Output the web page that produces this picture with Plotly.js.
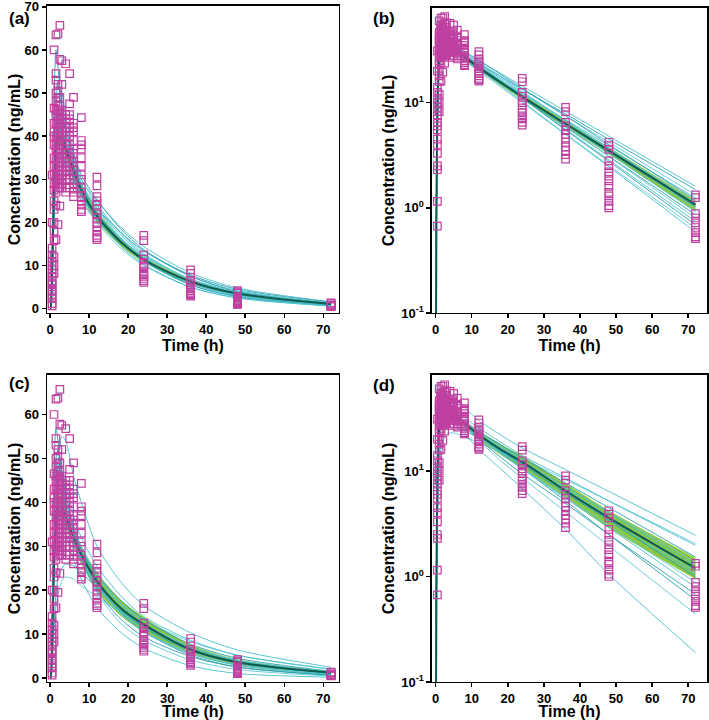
<!DOCTYPE html>
<html>
<head>
<meta charset="utf-8">
<script src="https://cdn.plot.ly/plotly-3.0.1.min.js"></script>
<style>
  html, body { margin: 0; padding: 0; background: #ffffff; }
  #chart { width: 709px; height: 720px; }
</style>
</head>
<body>
<div id="chart"></div>
<script>
// --- DATA ---
// time grid of the simulated profiles (h)
const curveTimes = [0, 0.1, 0.25, 0.5, 1, 1.5, 2, 3, 4, 6, 8, 12, 18, 24, 36, 48, 72];

// individual predicted profiles, model 1 (panels a, b)
const curvesModel1 = [
    [0, 0.05, 1.0, 8, 30, 42, 46, 45, 41.5, 35, 30, 25.0, 19.0, 14.4, 8.3, 4.8, 1.6],
    [0, 0.05, 2, 14, 48, 60, 56, 47, 41, 33.5, 28, 23.3, 17.7, 13.4, 7.8, 4.48, 1.49],
    [0, 0.05, 1.2, 9, 32, 46, 52, 50, 45, 36, 29, 23.9, 17.9, 13.4, 7.5, 4.2, 1.33],
    [0, 0.05, 0.8, 6, 22, 31, 35, 36, 34.5, 30, 26, 21.5, 16.2, 12.2, 6.9, 3.9, 1.24],
    [0, 0.05, 1.0, 7, 26, 37, 42, 44, 42, 36, 31, 25.3, 18.6, 13.7, 7.5, 4.0, 1.19],
    [0, 0.05, 1.5, 10, 33, 43, 45, 42, 38, 32, 27, 22.1, 16.4, 12.2, 6.7, 3.7, 1.12],
    [0, 0.05, 1.1, 8, 28, 39, 43, 42, 39, 33, 28.5, 23.2, 17.1, 12.5, 6.8, 3.66, 1.07],
    [0, 0.05, 0.9, 6.5, 24, 33, 36, 35, 33, 28.5, 25, 20.5, 15.2, 11.3, 6.2, 3.4, 1.03],
    [0, 0.05, 1.3, 9.5, 34, 47, 50, 47, 42, 35, 30, 24.2, 17.6, 12.8, 6.7, 3.6, 0.99],
    [0, 0.05, 1.0, 7.5, 27, 37, 40, 39, 37, 32, 27.5, 22.2, 16.2, 11.7, 6.2, 3.28, 0.92],
    [0, 0.05, 0.7, 5.5, 20, 29, 33, 35, 34, 30, 26, 21.0, 15.3, 11.1, 5.85, 3.1, 0.86],
    [0, 0.05, 1.6, 11, 38, 50, 53, 48, 42, 34.5, 29, 23.2, 16.5, 11.8, 6.0, 3.07, 0.80],
    [0, 0.05, 1.2, 8.5, 30, 40, 42, 40, 37, 31.5, 27, 21.6, 15.4, 11.0, 5.6, 2.86, 0.74],
    [0, 0.05, 1.0, 7.5, 27, 38, 42, 41, 38, 32.5, 28, 22.2, 15.7, 11.1, 5.5, 2.77, 0.69],
    [0, 0.05, 0.9, 7, 25, 34, 37, 36, 33, 28.5, 25, 19.9, 14.1, 10.0, 5.0, 2.53, 0.64],
    [0, 0.05, 1.4, 10, 34, 44, 46, 42, 37, 31, 26.5, 20.9, 14.6, 10.3, 5.0, 2.46, 0.59]
];
const meanModel1 = [0, 0.05, 1.2, 8, 28, 37, 40, 39.5, 37, 32, 27.5, 21.5, 15.6, 11.4, 6.3, 3.5, 1.07];
const lowerModel1 = [0, 0.05, 1.0, 7, 26, 35, 38, 37.5, 35, 30.3, 26, 20.3, 14.7, 10.8, 5.9, 3.25, 0.93];
const upperModel1 = [0, 0.05, 1.4, 9, 30, 39, 42, 41.5, 39, 33.7, 29, 22.7, 16.5, 12.0, 6.7, 3.75, 1.17];

// individual predicted profiles, model 2 (panels c, d)
const curvesModel2 = [
    [0, 0.05, 0.8, 6, 24, 38, 48, 55, 54, 46, 40, 30, 22, 16.5, 10.3, 6.4, 2.46],
    [0, 0.05, 2, 15, 48, 57, 54, 45, 39, 32, 27, 21.5, 15, 10.6, 5.2, 2.5, 0.60],
    [0, 0.05, 1.0, 7, 26, 36, 40, 39, 36, 31, 27, 22, 17, 13.2, 8.3, 5.2, 2.05],
    [0, 0.05, 1.2, 8.5, 30, 42, 47, 47, 44, 37, 32, 25.5, 18.8, 14, 8.6, 5.2, 1.97],
    [0, 0.05, 1.0, 7.5, 28, 39, 43, 42, 39, 33.5, 29, 23.5, 17.8, 13.3, 7.7, 4.5, 1.53],
    [0, 0.05, 0.4, 3, 11, 16, 19, 22, 23, 22.5, 21, 18.5, 15, 12, 7.0, 4.1, 1.37],
    [0, 0.05, 1.1, 8, 29, 40, 44, 43, 40, 34, 29.5, 23.5, 17, 12.5, 7.1, 4.0, 1.27],
    [0, 0.05, 0.5, 3.5, 13, 19, 22.5, 25, 26, 25.5, 24, 20.5, 15.5, 11.8, 6.6, 3.7, 1.18],
    [0, 0.05, 1.3, 9, 32, 44, 48, 46, 42, 35, 30, 23.5, 16.8, 12.2, 6.7, 3.7, 1.10],
    [0, 0.05, 0.9, 6.5, 24, 33, 37, 37, 35, 30.5, 26.5, 21, 15.3, 11.3, 6.2, 3.45, 1.05],
    [0, 0.05, 1.5, 11, 38, 50, 52, 47, 42, 34, 29, 22.5, 15.8, 11.5, 6.2, 3.4, 0.99],
    [0, 0.05, 1.0, 7, 26, 36, 40, 40, 37.5, 32, 27.5, 21, 14.7, 10.6, 5.7, 3.05, 0.88],
    [0, 0.05, 1.2, 9, 33, 45, 49, 46, 41, 34, 28.5, 21.5, 15, 10.5, 5.5, 2.9, 0.79],
    [0, 0.05, 0.8, 6, 23, 33, 38, 39, 37, 32, 27, 20, 13.5, 9.4, 4.9, 2.5, 0.68],
    [0, 0.05, 1.4, 10, 35, 46, 49, 45, 40, 32.5, 27, 19.5, 12.5, 8.6, 4.1, 1.95, 0.44],
    [0, 0.05, 1.1, 8, 28, 38, 40, 37, 33, 27, 22.5, 16, 10.5, 6.8, 2.8, 1.05, 0.19]
];
const meanModel2 = [0, 0.05, 1.1, 7.5, 26, 35, 39, 39, 36.5, 32, 28, 22, 16, 12.2, 6.5, 3.6, 1.2];
const lowerModel2 = [0, 0.05, 0.9, 6.5, 24, 32.5, 36.5, 36.5, 34.5, 30, 26, 20, 14.3, 10.6, 5.6, 2.9, 0.95];
const upperModel2 = [0, 0.05, 1.3, 8.5, 28, 37.5, 41.5, 41.5, 39, 34, 30, 24, 17.8, 13.8, 7.6, 4.2, 1.5];

// observed concentrations, grouped by sampling time (h)
const obsTimes = [0.5, 1, 1.5, 2, 2.5, 3, 4, 5, 6, 8, 12, 24, 36, 48, 72];
const obsConc = [
    [31, 20, 14, 12.5, 11, 10, 9, 8.2, 7.5, 6.5, 6, 5.5, 4.5, 4, 3.3, 2.5, 2.3, 1.15, 0.67],
    [60, 46.5, 43, 41, 40, 38, 35, 33, 31, 29, 27.5, 25, 23, 20, 18, 15.8, 12, 10, 8.2],
    [63.5, 54.5, 53, 50, 48, 46, 45, 43, 40, 38, 37, 35, 33, 31, 30, 29, 27, 24, 16],
    [63.7, 52, 50.5, 49, 47, 46, 44.5, 43, 42, 41, 40, 39, 37, 36, 35, 33, 31, 30, 29, 28, 19.5],
    [65.7, 57.8, 49, 47, 45.5, 44, 43, 42, 40, 38, 37, 35, 34, 33, 32, 30, 29, 28, 23.8],
    [57.5, 52, 46, 45, 44, 43, 42, 41, 40, 39, 38, 37, 35, 34, 32, 31, 30, 29, 28],
    [56.8, 45, 44, 43, 42, 41, 40, 38, 37, 36, 35, 34, 33, 32, 31, 30, 28, 27],
    [54.5, 47.5, 45, 44, 42, 41, 40, 38, 36, 35, 33, 32, 31, 30, 28],
    [49, 43, 42, 41, 39, 37, 36, 35, 34, 33, 32, 31, 30, 29, 28, 27, 26],
    [44.3, 39, 38, 37, 35, 33, 31, 30, 28, 27, 26, 25, 24, 23, 22.5],
    [30.5, 28.5, 26, 25, 24, 23, 22, 21, 20, 19, 18, 17, 16.5, 16],
    [17, 15.8, 12.5, 11.5, 10.5, 10, 9.5, 8.5, 8, 7.5, 7, 6.5, 6.1],
    [9, 8.2, 6.5, 6, 5.5, 5, 4.6, 4.2, 3.8, 3.5, 3.2, 2.9],
    [4.2, 3.9, 3.6, 2.8, 2.5, 2.2, 2.0, 1.8, 1.6, 1.4, 1.3, 1.15, 1.05, 1.0],
    [1.33, 1.25, 0.88, 0.8, 0.72, 0.65, 0.58, 0.53, 0.51]
];

// --- STYLE ---
const BAND_COLOR = '#8DC63F';
const CURVE_COLORS = ['#45BFCD', '#2A9FAE', '#5CC8D4'];
const MEAN_COLOR = '#0E5A4E';
const OBS_COLOR = '#BF40A0';

function buildPanel(curves, mean, lower, upper, xa, ya) {
    const obsX = [];
    const obsY = [];
    obsTimes.forEach((t, i) => {
        obsConc[i].forEach(c => { obsX.push(t); obsY.push(c); });
    });

    const smooth = { shape: 'spline', smoothing: 0.8 };
    const traces = [];
    traces.push({
        x: curveTimes, y: lower, mode: 'lines', xaxis: xa, yaxis: ya,
        line: Object.assign({ color: BAND_COLOR, width: 0.5 }, smooth), hoverinfo: 'skip'
    });
    traces.push({
        x: curveTimes, y: upper, mode: 'lines', xaxis: xa, yaxis: ya,
        fill: 'tonexty', fillcolor: BAND_COLOR,
        line: Object.assign({ color: BAND_COLOR, width: 0.5 }, smooth), hoverinfo: 'skip'
    });
    curves.forEach((c, i) => {
        traces.push({
            x: curveTimes, y: c, mode: 'lines', xaxis: xa, yaxis: ya,
            line: Object.assign({ color: CURVE_COLORS[i % 3], width: 0.9 }, smooth)
        });
    });
    traces.push({
        x: curveTimes, y: mean, mode: 'lines', xaxis: xa, yaxis: ya,
        line: Object.assign({ color: MEAN_COLOR, width: 2 }, smooth)
    });
    traces.push({
        x: obsX, y: obsY, mode: 'markers', xaxis: xa, yaxis: ya,
        marker: { symbol: 'square-open', size: 7.5, color: OBS_COLOR, line: { width: 1.2 } }
    });
    return traces;
}

const tickFont = { family: 'Arial, Liberation Sans, sans-serif', size: 13, color: '#000', weight: 'bold' };
const titleFont = { family: 'Arial, Liberation Sans, sans-serif', size: 16, color: '#000', weight: 'bold' };

function baseAxis(extra) {
    return Object.assign({
        showline: true, mirror: true, linecolor: '#000', linewidth: 1.5,
        ticks: 'outside', ticklen: 4, tickwidth: 1.5, tickcolor: '#000',
        showgrid: false, zeroline: false, tickfont: tickFont,
        ticklabeloverflow: 'allow'
    }, extra);
}

function timeAxis(domain, range, anchor) {
    return baseAxis({
        domain: domain, range: range, anchor: anchor, tick0: 0, dtick: 10,
        title: { text: 'Time (h)', font: titleFont, standoff: 1 }
    });
}

function concAxis(domain, anchor, standoff, extra) {
    return baseAxis(Object.assign({
        domain: domain, anchor: anchor,
        title: { text: 'Concentration (ng/mL)', font: titleFont, standoff: standoff }
    }, extra));
}

const logTicks = {
    type: 'log', tickvals: [0.1, 1, 10],
    ticktext: ['10<sup>-1</sup>', '10<sup>0</sup>', '10<sup>1</sup>']
};

const data = [].concat(
    buildPanel(curvesModel1, meanModel1, lowerModel1, upperModel1, 'x', 'y'),
    buildPanel(curvesModel1, meanModel1, lowerModel1, upperModel1, 'x2', 'y2'),
    buildPanel(curvesModel2, meanModel2, lowerModel2, upperModel2, 'x3', 'y3'),
    buildPanel(curvesModel2, meanModel2, lowerModel2, upperModel2, 'x4', 'y4')
);

const panelLabel = (text, x, y) => ({
    text: text, xref: 'paper', yref: 'paper', x: x, y: y,
    xanchor: 'left', yanchor: 'middle', showarrow: false,
    font: { family: 'Arial, Liberation Sans, sans-serif', size: 17, color: '#000', weight: 'bold' }
});

const layout = {
    width: 709, height: 720,
    margin: { l: 0, r: 0, t: 0, b: 0 },
    paper_bgcolor: '#ffffff', plot_bgcolor: '#ffffff',
    showlegend: false,
    xaxis: timeAxis([0.0663, 0.478], [-0.8, 74], 'y'),
    yaxis: concAxis([0.5653, 0.9917], 'x', 0, { range: [-1, 70.2], tick0: 0, dtick: 10 }),
    xaxis2: timeAxis([0.6093, 0.9972], [-1, 75.2], 'y2'),
    yaxis2: concAxis([0.5653, 0.9889], 'x2', 2, Object.assign({ range: [-1, 1.9] }, logTicks)),
    xaxis3: timeAxis([0.0663, 0.478], [-0.8, 74], 'y3'),
    yaxis3: concAxis([0.0528, 0.4792], 'x3', 0, { range: [-0.9, 69], tick0: 0, dtick: 10 }),
    xaxis4: timeAxis([0.6093, 0.9972], [-1, 75.2], 'y4'),
    yaxis4: concAxis([0.0528, 0.4792], 'x4', 2, Object.assign({ range: [-1, 1.91] }, logTicks)),
    annotations: [
        panelLabel('(a)', 7 / 709, 1 - 18 / 720),
        panelLabel('(b)', 371 / 709, 1 - 18 / 720),
        panelLabel('(c)', 7 / 709, 1 - 383 / 720),
        panelLabel('(d)', 371 / 709, 1 - 385 / 720)
    ]
};

Plotly.newPlot('chart', data, layout, { displayModeBar: false, staticPlot: true });
</script>
</body>
</html>
